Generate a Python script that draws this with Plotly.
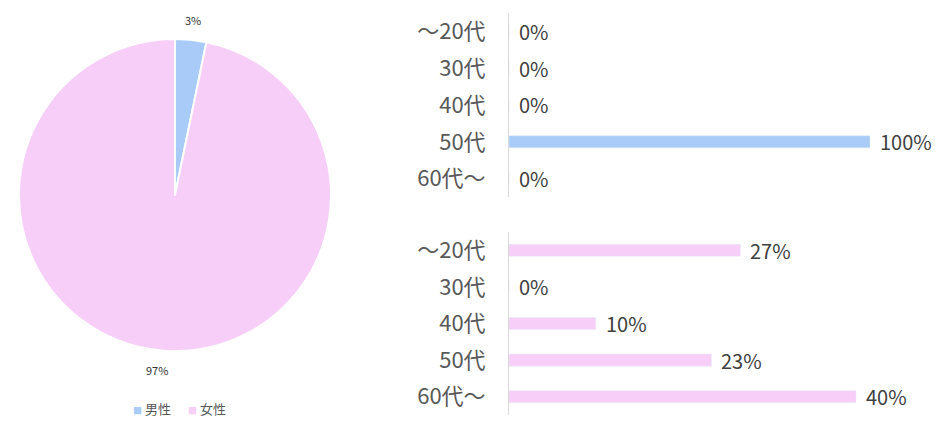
import math
import plotly.graph_objects as go

# ---- data ----
genders = ["男性", "女性"]
gender_counts = [1, 30]
age_groups = ["～20代", "30代", "40代", "50代", "60代～"]
male_counts = [0, 0, 0, 1, 0]
female_counts = [8, 0, 3, 7, 12]

BLUE = "#A8CBF7"
PINK = "#F6CEF8"
TXT = "#595959"
FONT = "Noto Sans CJK JP"

male_pct = [c / sum(male_counts) * 100 for c in male_counts]
female_pct = [c / sum(female_counts) * 100 for c in female_counts]

# page body has an 8px margin: figure is drawn offset by 8px
OFF = 8
W, H = 950 - OFF, 428 - OFF


def fx(px):
    return (px - OFF) / W


def fy(py):
    return 1 - (py - OFF) / H


fig = go.Figure()

# pie geometry (reference pixels)
cx, cy, r = 175, 195, 156
fig.add_trace(go.Pie(
    labels=genders, values=gender_counts,
    marker=dict(colors=[BLUE, PINK], line=dict(color="white", width=2)),
    sort=False, direction="clockwise", rotation=0,
    textinfo="none",
    domain=dict(x=[fx(cx - r), fx(cx + r)], y=[fy(cy + r), fy(cy - r)]),
    showlegend=False,
))

annotations = []
# pie percentage labels placed outside at slice mid-angles
total = sum(gender_counts)
acc = 0
for v in gender_counts:
    mid = (acc + v / 2) / total * 2 * math.pi
    acc += v
    lr = r + 20
    px = cx + lr * math.sin(mid)
    py = cy - lr * math.cos(mid)
    annotations.append(dict(
        x=fx(px), y=fy(py), xref="paper", yref="paper",
        text=f"{v / total * 100:.0f}%", showarrow=False,
        xanchor="center", yanchor="middle",
        font=dict(size=11, color="#333333", family=FONT),
    ))

fig.add_trace(go.Bar(
    x=male_pct, y=age_groups, orientation="h",
    marker=dict(color=BLUE), width=0.33,
    xaxis="x", yaxis="y", showlegend=False, hoverinfo="x+y",
))
fig.add_trace(go.Bar(
    x=female_pct, y=age_groups, orientation="h",
    marker=dict(color=PINK), width=0.33,
    xaxis="x2", yaxis="y2", showlegend=False, hoverinfo="x+y",
))

for vals, xa, ya in [(male_pct, "x", "y"), (female_pct, "x2", "y2")]:
    for v, cat in zip(vals, age_groups):
        annotations.append(dict(
            x=v, y=cat, xref=xa, yref=ya, text=f"{v:.0f}%",
            showarrow=False, xanchor="left", yanchor="middle", xshift=8,
            font=dict(size=20, color="#404040", family=FONT),
        ))

# manual legend
legend_items = [(genders[0], BLUE, 131), (genders[1], PINK, 186)]
for name, col, lx in legend_items:
    annotations.append(dict(
        x=fx(lx), y=fy(408), xref="paper", yref="paper",
        text=f'<span style="font-size:9px;color:{col}">■</span> {name}',
        showarrow=False, xanchor="left", yanchor="middle",
        font=dict(size=13, color=TXT, family=FONT),
    ))

x0, x1 = 509, 940
plot_w = x1 - x0
top_range = plot_w / 361 * 100
bot_range = plot_w / 8.675

common_y = dict(
    type="category", categoryorder="array", categoryarray=age_groups,
    autorange="reversed", showgrid=False, zeroline=False,
    showline=True, linecolor="#D9D9D9", linewidth=1,
    tickfont=dict(size=22, color=TXT, family=FONT),
    ticklabelstandoff=18, ticks="",
)
common_x = dict(showgrid=False, zeroline=False, showticklabels=False,
                showline=False, fixedrange=True)

fig.update_layout(
    width=W, height=H,
    margin=dict(l=0, r=0, t=0, b=0),
    paper_bgcolor="white", plot_bgcolor="white",
    font=dict(family=FONT, color=TXT),
    xaxis=dict(domain=[fx(x0), fx(x1)], range=[0, top_range], anchor="y", **common_x),
    yaxis=dict(domain=[fy(197), fy(13)], anchor="x", **common_y),
    xaxis2=dict(domain=[fx(x0), fx(x1)], range=[0, bot_range], anchor="y2", **common_x),
    yaxis2=dict(domain=[fy(415), fy(232)], anchor="x2", **common_y),
    showlegend=False,
    annotations=annotations,
    bargap=0.67,
)

fig.write_html("out.html")
